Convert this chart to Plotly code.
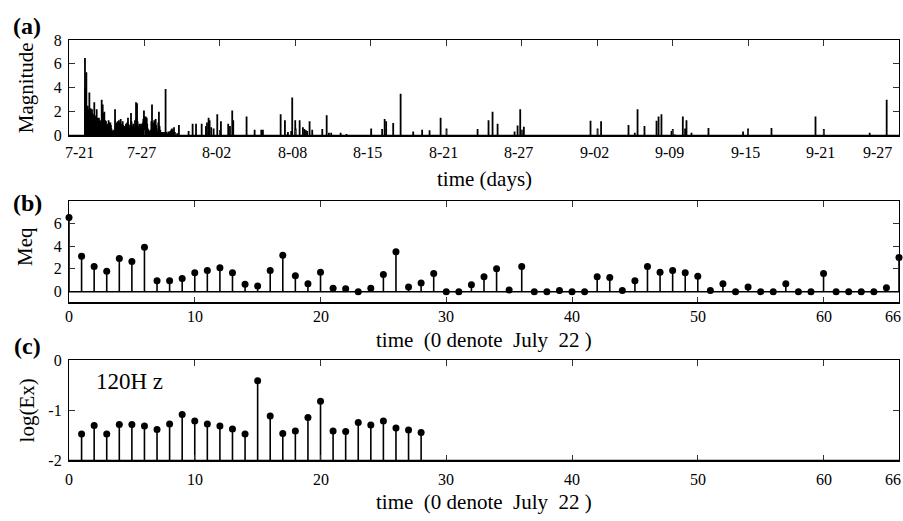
import plotly.graph_objects as go

FONT = "Liberation Serif"
W, H = 903, 521

# ---------------- (a) aftershock sequence ----------------
# event time in days counted from 7-21 00:00, and its magnitude
quake_days = [
    1.27, 1.30, 1.33, 1.38, 1.42, 1.45, 1.49, 1.53, 1.57, 1.62, 1.66, 1.69, 1.72, 1.76,
    1.79, 1.83, 1.87, 1.91, 1.95, 2.01, 2.05, 2.09, 2.13, 2.16, 2.20, 2.24, 2.28, 2.32,
    2.38, 2.42, 2.46, 2.50, 2.54, 2.60, 2.64, 2.68, 2.72, 2.76, 2.81, 2.85, 2.89, 2.94,
    2.98, 3.02, 3.06, 3.10, 3.15, 3.19, 3.23, 3.29, 3.33, 3.37, 3.42, 3.47, 3.52, 3.57,
    3.66, 3.70, 3.74, 3.79, 3.83, 3.87, 3.92, 3.97, 4.01, 4.06, 4.11, 4.15, 4.20, 4.27,
    4.31, 4.36, 4.41, 4.48, 4.53, 4.57, 4.62, 4.69, 4.73, 4.78, 4.86, 4.93, 4.97, 5.02,
    5.06, 5.11, 5.15, 5.20, 5.25, 5.29, 5.33, 5.37, 5.41, 5.45, 5.50, 5.55, 5.59, 5.63,
    5.68, 5.73, 5.78, 5.82, 5.87, 5.91, 5.96, 6.00, 6.05, 6.10, 6.14, 6.18, 6.22, 6.27,
    6.33, 6.38, 6.44, 6.50, 6.55, 6.60, 6.64, 6.70, 6.74, 6.78, 6.83, 6.89, 6.93, 6.98,
    7.05, 7.10, 7.15, 7.20, 7.26, 7.34, 7.42, 7.48, 7.56, 7.62, 7.68, 7.74, 7.84, 7.90,
    7.96, 8.05, 8.12, 8.19, 8.27, 8.35, 8.42, 8.60, 8.74, 9.51, 9.83, 10.10, 10.55, 10.89,
    10.97, 11.10, 11.18, 11.31, 11.50, 11.79, 12.08, 12.66, 12.80, 12.98, 13.06, 14.12,
    14.76, 15.29, 15.42, 16.83, 17.17, 17.35, 17.41, 17.67, 17.75, 17.99, 18.02, 18.34,
    18.60, 18.72, 18.84, 18.94, 19.13, 19.34, 20.14, 20.49, 20.67, 20.85, 21.60, 22.07,
    24.03, 24.90, 25.10, 25.22, 25.78, 26.37, 27.37, 28.08, 28.67, 29.55, 30.02, 32.49,
    33.36, 33.68, 34.08, 35.43, 35.67, 35.88, 36.01, 36.17, 41.47, 42.03, 42.31, 44.49,
    44.99, 45.21, 45.76, 46.72, 46.88, 47.11, 47.91, 48.01, 48.17, 48.81, 48.99, 49.10,
    49.50, 50.85, 53.60, 54.00, 55.86, 59.36, 60.02, 63.67, 64.76, 65.02,
]
quake_mags = [
    6.5, 4.0, 3.2, 5.3, 2.4, 2.0, 2.5, 1.9, 2.2, 3.6, 1.8, 2.0, 2.3, 1.6,
    1.9, 2.2, 1.5, 1.8, 1.4, 2.8, 1.7, 1.3, 1.6, 1.2, 2.2, 1.5, 1.2, 1.4,
    1.5, 1.1, 1.3, 0.9, 1.2, 3.0, 1.6, 2.6, 1.9, 1.4, 2.0, 1.1, 1.3, 1.2,
    0.9, 0.7, 0.8, 1.0, 1.3, 1.1, 0.8, 1.1, 0.9, 0.6, 0.4, 0.3, 0.5, 0.4,
    2.2, 0.8, 1.0, 1.1, 0.9, 1.2, 1.0, 1.3, 1.1, 0.9, 1.4, 1.0, 0.7, 1.2,
    0.9, 0.6, 0.8, 0.7, 1.0, 0.9, 1.1, 1.5, 1.0, 0.7, 0.9, 1.9, 1.2, 0.6,
    0.8, 1.0, 0.7, 0.5, 1.3, 1.0, 2.8, 1.5, 2.7, 1.2, 0.8, 0.6, 1.0, 0.9,
    0.7, 1.0, 0.8, 0.6, 1.1, 1.4, 2.1, 1.6, 1.3, 1.6, 1.4, 1.5, 1.0, 0.6,
    0.5, 0.4, 0.3, 0.5, 1.2, 2.6, 1.0, 0.8, 1.1, 1.3, 1.0, 1.4, 0.9, 0.6,
    0.4, 1.1, 2.0, 0.8, 0.5, 0.3, 0.3, 0.2, 0.3, 0.2, 3.9, 0.3, 0.2, 0.35,
    0.3, 0.4, 0.5, 0.6, 0.45, 0.7, 0.3, 0.2, 0.9, 0.4, 1.0, 1.0, 1.0, 0.8,
    1.1, 1.5, 1.3, 0.7, 0.6, 1.8, 1.2, 1.0, 0.8, 2.1, 1.3, 1.6,
    0.5, 0.5, 0.5, 1.8, 1.3, 0.1, 0.3, 0.4, 3.2, 1.3, 0.6, 1.3,
    0.7, 0.55, 0.45, 0.4, 1.2, 0.5, 0.55, 1.7, 0.25, 0.25, 0.25, 0.15,
    0.6, 0.55, 1.4, 1.2, 1.05, 3.5, 0.35, 0.5, 0.45, 1.5, 0.6, 0.55,
    1.3, 2.0, 1.0, 0.35, 0.85, 2.2, 0.5, 0.75, 1.25, 0.6, 1.2, 0.9,
    0.25, 2.2, 0.8, 1.25, 1.6, 1.8, 0.4, 0.55, 0.1, 1.6, 0.6, 1.3,
    0.25, 0.65, 0.35, 0.6, 0.65, 1.6, 0.55, 0.25, 0.05, 3.0,
]
date_ticks = [0, 6, 12, 18, 24, 30, 36, 42, 48, 54, 60, 66]
date_labels = ["7-21", "7-27", "8-02", "8-08", "8-15", "8-21",
               "8-27", "9-02", "9-09", "9-15", "9-21", "9-27"]

# ---------------- (b) daily equivalent magnitude ----------------
meq_days = list(range(0, 67))
meq_vals = [
    6.5, 3.1, 2.2, 1.8, 2.9, 2.65, 3.9, 0.95, 0.95, 1.15,
    1.65, 1.85, 2.1, 1.65, 0.65, 0.5, 1.85, 3.2, 1.4, 0.7,
    1.7, 0.3, 0.25, 0.0, 0.3, 1.5, 3.5, 0.4, 0.75, 1.6,
    0.0, 0.0, 0.6, 1.3, 2.0, 0.15, 2.2, 0.0, 0.0, 0.1,
    0.0, 0.0, 1.3, 1.25, 0.1, 0.95, 2.2, 1.7, 1.85, 1.65,
    1.35, 0.1, 0.7, 0.0, 0.4, 0.0, 0.0, 0.7, 0.0, 0.0,
    1.6, 0.0, 0.0, 0.0, 0.0, 0.35, 3.0,
]
step_ticks = [0, 10, 20, 30, 40, 50, 60, 66]

# ---------------- (c) 120 Hz electric field ----------------
ex_days = list(range(1, 29))
ex_log = [
    -1.47, -1.30, -1.47, -1.28, -1.28, -1.31, -1.38, -1.27, -1.08, -1.21,
    -1.27, -1.31, -1.37, -1.47, -0.41, -1.11, -1.46, -1.41, -1.14, -0.82,
    -1.41, -1.42, -1.24, -1.29, -1.21, -1.35, -1.39, -1.44,
]


def stems(xs, ys, base):
    sx, sy = [], []
    for x, y in zip(xs, ys):
        sx += [x, x, None]
        sy += [base, y, None]
    return sx, sy


def py(px):
    return 1 - px / H


XDOM = [69 / W, 899 / W]
DOM_A = [py(132), py(33)]
DOM_B = [py(305), py(199)]
DOM_C = [py(468), py(364)]

fig = go.Figure()

qx, qy = stems(quake_days, quake_mags, 0)
fig.add_trace(go.Scatter(x=qx, y=qy, mode="lines", line=dict(color="black", width=1.8),
                         xaxis="x", yaxis="y", hoverinfo="skip"))

bx, by = stems(meq_days, meq_vals, 0)
fig.add_trace(go.Scatter(x=bx, y=by, mode="lines", line=dict(color="black", width=1.6),
                         xaxis="x2", yaxis="y2", cliponaxis=False))
fig.add_trace(go.Scatter(x=meq_days, y=meq_vals, mode="markers",
                         marker=dict(color="black", size=7),
                         xaxis="x2", yaxis="y2", cliponaxis=False))

cx, cy = stems(ex_days, ex_log, -2)
fig.add_trace(go.Scatter(x=cx, y=cy, mode="lines", line=dict(color="black", width=1.6),
                         xaxis="x3", yaxis="y3", cliponaxis=False))
fig.add_trace(go.Scatter(x=ex_days, y=ex_log, mode="markers",
                         marker=dict(color="black", size=7),
                         xaxis="x3", yaxis="y3", cliponaxis=False))

axis_style = dict(showline=True, linecolor="black", linewidth=1.2, mirror="ticks",
                  ticks="inside", ticklen=6, tickwidth=1, tickcolor="#333",
                  showgrid=False, zeroline=False,
                  tickfont=dict(family=FONT, size=16, color="black"))

fig.update_layout(
    width=W, height=H,
    margin=dict(l=0, r=0, t=0, b=0),
    paper_bgcolor="white", plot_bgcolor="white",
    showlegend=False,
    xaxis=dict(domain=XDOM, range=[0, 66], tickvals=date_ticks, showticklabels=False,
               anchor="y", **axis_style),
    yaxis=dict(domain=DOM_A, range=[0, 8], tickvals=[0, 2, 4, 6, 8], anchor="x",
               ticklabelstandoff=3, **axis_style),
    xaxis2=dict(domain=XDOM, range=[0, 66], tickvals=step_ticks, showticklabels=False,
                anchor="y2", **axis_style),
    yaxis2=dict(domain=DOM_B, range=[-1, 8], tickvals=[0, 2, 4, 6], anchor="x2",
                ticklabelstandoff=3, **axis_style),
    xaxis3=dict(domain=XDOM, range=[0, 66], tickvals=step_ticks, showticklabels=False,
                anchor="y3", **axis_style),
    yaxis3=dict(domain=DOM_C, range=[-2, 0], tickvals=[-2, -1, 0],
                ticktext=["-2", "-1", "0"], anchor="x3",
                ticklabelstandoff=3, **axis_style),
)

ann = []
tick_font = dict(family=FONT, size=16, color="black")
title_font = dict(family=FONT, size=21, color="black")


def label(x, ypx, text, font, xref="paper", **kw):
    xv = x / W if xref == "paper" else x
    return dict(x=xv, y=py(ypx), xref=xref, yref="paper", text=text, showarrow=False,
                xanchor="center", yanchor="middle", font=font, **kw)


# x tick labels, nudged inward at the frame edges
for i, (v, t) in enumerate(zip(date_ticks, date_labels)):
    shift = -3
    if i == 0:
        shift = 10
    elif i == len(date_ticks) - 1:
        shift = -22
    ann.append(label(v, 149, t, tick_font, xref="x", xshift=shift))
for xr, ypx in (("x2", 319), ("x3", 487)):
    for v in step_ticks:
        shift = -6 if v == 66 else 0
        ann.append(label(v, ypx, str(v), tick_font, xref=xr, xshift=shift))

# axis titles
nb = "\u00a0"
step_title = f"time{nb}{nb}(0{nb}denote{nb}{nb}July{nb}{nb}22{nb})"
ann += [
    label(484, 177, "time (days)", title_font),
    label(484, 343, step_title, title_font),
    label(484, 511, step_title, title_font),
    label(26, 83, "Magnitude", title_font, textangle=-90),
    label(25, 247, "Meq", title_font, textangle=-90),
    label(27, 416, "log(Ex)", title_font, textangle=-90),
    label(129, 386, "120H z", dict(family=FONT, size=23, color="black")),
]
# panel letters
for letter, ypx in (("(a)", 19), ("(b)", 202), ("(c)", 349)):
    ann.append(label(27, ypx, f"<b>{letter}</b>", dict(family=FONT, size=24, color="black")))
fig.update_layout(annotations=ann)

# heavier bottom frame lines
shapes = []
for dom in (DOM_A, DOM_B, DOM_C):
    shapes.append(dict(type="line", xref="paper", yref="paper", x0=XDOM[0], x1=XDOM[1],
                       y0=dom[0], y1=dom[0], line=dict(color="black", width=2)))
# zero baseline of the Meq stems
shapes.append(dict(type="line", xref="x2", yref="y2", x0=0, x1=66, y0=0, y1=0,
                   line=dict(color="black", width=1.5)))
fig.update_layout(shapes=shapes)

fig.write_html("out.html")
